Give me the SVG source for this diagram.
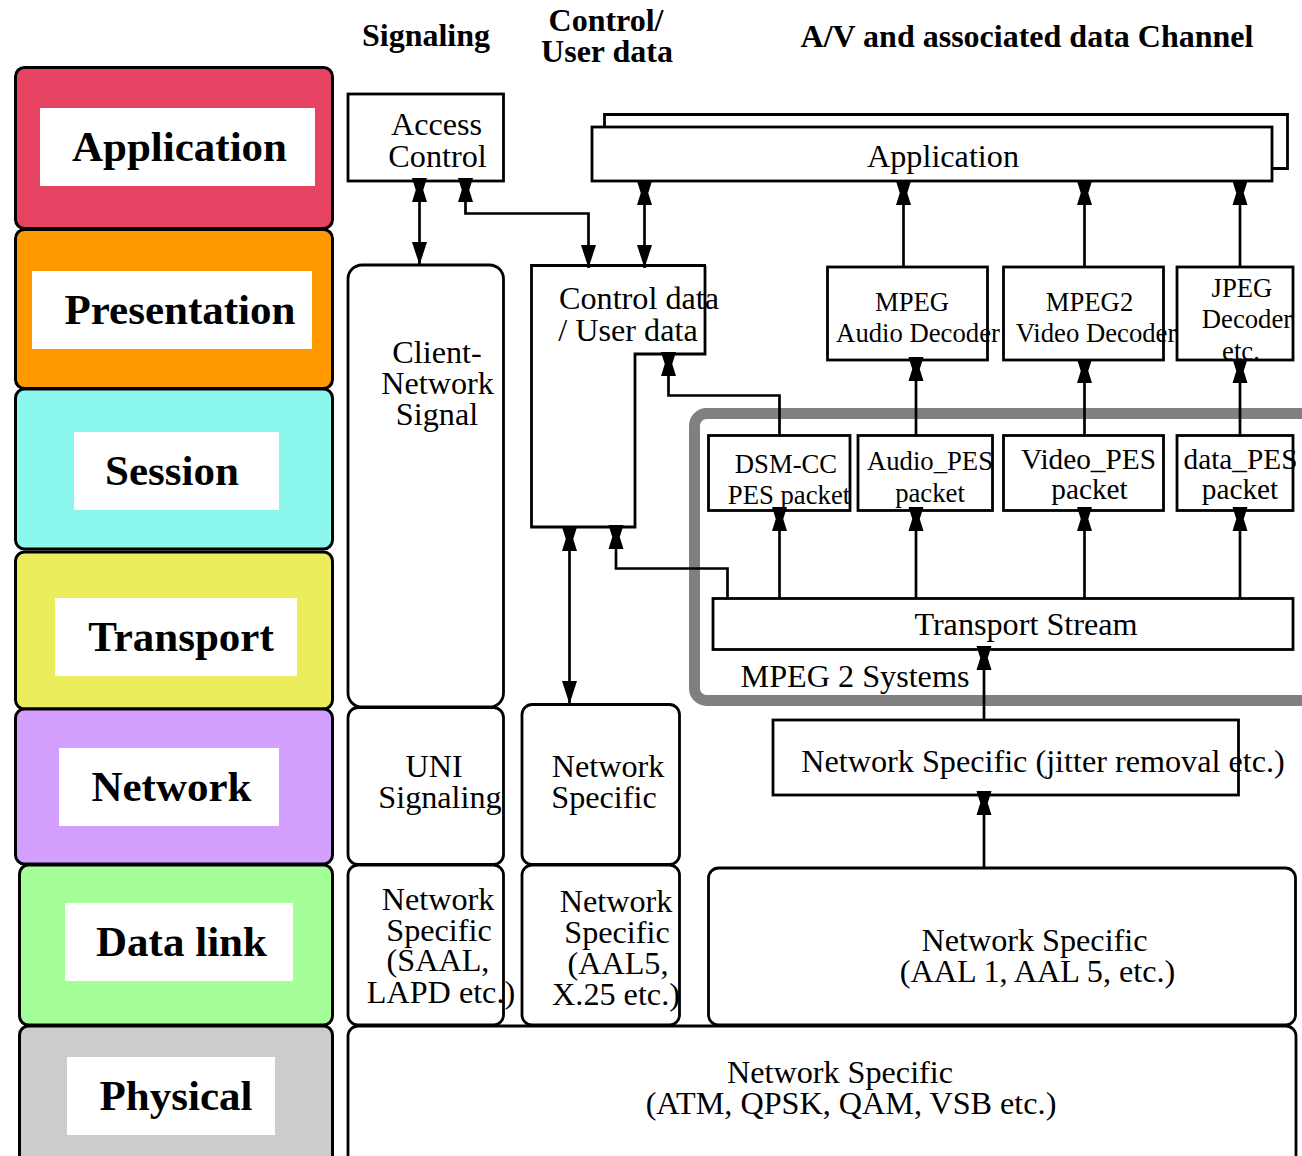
<svg xmlns="http://www.w3.org/2000/svg" width="1302" height="1156" viewBox="0 0 1302 1156">
<style>
text{font-family:"Liberation Serif","Times New Roman",serif;fill:#000;text-anchor:middle}
.h{font-weight:bold;font-size:32px}
.l{font-weight:bold;font-size:43px}
.t{font-size:32.2px}
.s{font-size:26.7px}
.p{font-size:29.3px}
.b{fill:#fff;stroke:#000;stroke-width:2.8}
.lay{stroke:#000;stroke-width:3}
.lab{fill:#fff}
.c{fill:none;stroke:#000;stroke-width:2.7;marker-end:url(#hg)}
.d{fill:none;stroke:#000;stroke-width:2.7;marker-start:url(#hg);marker-end:url(#a)}
.w{fill:none;stroke:#000;stroke-width:2.8}
</style>
<defs>
<marker id="a" markerUnits="userSpaceOnUse" markerWidth="24" markerHeight="16" refX="23" refY="8" orient="auto-start-reverse" viewBox="0 0 24 16" overflow="visible"><path d="M0 .5V15.500L23 8Z" fill="#000"/></marker>
<marker id="hg" markerUnits="userSpaceOnUse" markerWidth="24" markerHeight="16" refX="24" refY="8" orient="auto-start-reverse" viewBox="0 0 24 16" overflow="visible"><path d="M0 .5L12 4.250L24 .5V15.500L12 11.750L0 15.500Z" fill="#000"/></marker>
</defs>
<g id="layer-application"><rect class="lay" x="15.500" y="67.500" width="317" height="161" rx="9" fill="#e64362"/><rect class="lab" x="40" y="108" width="275" height="78"/><text class="l" x="179.500" y="161">Application</text></g>
<g id="layer-presentation"><rect class="lay" x="15.500" y="229.500" width="317" height="159" rx="9" fill="#ff9900"/><rect class="lab" x="32" y="271" width="280" height="78"/><text class="l" x="180" y="324">Presentation</text></g>
<g id="layer-session"><rect class="lay" x="15.500" y="389" width="317" height="160" rx="9" fill="#8cf7ec"/><rect class="lab" x="74" y="432" width="205" height="78"/><text class="l" x="172" y="485">Session</text></g>
<g id="layer-transport"><rect class="lay" x="15.500" y="552" width="317" height="157" rx="9" fill="#ebed5c"/><rect class="lab" x="55" y="598" width="242" height="78"/><text class="l" x="181" y="651">Transport</text></g>
<g id="layer-network"><rect class="lay" x="15.500" y="709" width="317" height="155" rx="9" fill="#d3a0ff"/><rect class="lab" x="59" y="748" width="220" height="78"/><text class="l" x="171.500" y="801">Network</text></g>
<g id="layer-datalink"><rect class="lay" x="19.500" y="865" width="313" height="160" rx="9" fill="#a5ff99"/><rect class="lab" x="65" y="903" width="228" height="78"/><text class="l" x="181.500" y="956">Data link</text></g>
<g id="layer-physical"><rect class="lay" x="19.500" y="1026" width="313" height="140" rx="9" fill="#cccccc"/><rect class="lab" x="67" y="1057" width="208" height="78"/><text class="l" x="176" y="1110">Physical</text></g>

<text class="h" x="426" y="46">Signaling</text>
<text class="h" x="606" y="31">Control/</text>
<text class="h" x="607" y="62">User data</text>
<text class="h" x="1027" y="47">A/V and associated data Channel</text>

<g id="mpeg2-systems"><rect x="694.500" y="413.500" width="620" height="287" rx="12" fill="none" stroke="#808080" stroke-width="11"/><text class="t" x="855" y="687">MPEG 2 Systems</text></g>

<g id="access-control"><rect class="b" x="348" y="94" width="155.500" height="87"/><text class="t" x="436.500" y="135">Access</text><text class="t" x="437.500" y="167">Control</text></g>
<g id="application"><path class="b" d="M604.500 127V114.500H1287.500V168.500H1272"/><rect class="b" x="592" y="127" width="680" height="54"/><text class="t" x="943" y="167">Application</text></g>
<g id="client-network"><rect class="b" x="348" y="265" width="155.500" height="442" rx="14"/><text class="t" x="437" y="363">Client-</text><text class="t" x="437.500" y="394">Network</text><text class="t" x="437" y="425">Signal</text></g>
<g id="control-data"><path class="w" d="M705 265.500V354H635V527H531.500V265.500H706"/><text class="t" x="639" y="309">Control data</text><text class="t" x="628" y="340.500">/ User data</text></g>
<g id="mpeg-audio"><rect class="b" x="827.500" y="267" width="160" height="93"/><text class="s" x="912" y="311">MPEG</text><text class="s" x="918" y="342">Audio Decoder</text></g>
<g id="mpeg2-video"><rect class="b" x="1003.500" y="267" width="160" height="93"/><text class="s" x="1089.500" y="311">MPEG2</text><text class="s" x="1096" y="342">Video Decoder</text></g>
<g id="jpeg"><rect class="b" x="1177" y="267" width="116" height="93"/><text class="s" x="1242" y="297">JPEG</text><text class="s" x="1247" y="328">Decoder</text><text class="s" x="1241" y="360">etc.</text></g>
<g id="dsm-cc"><rect class="b" x="708.500" y="435.500" width="141.500" height="75"/><text class="s" x="786" y="473">DSM-CC</text><text class="s" x="789" y="504">PES packet</text></g>
<g id="audio-pes"><rect class="b" x="858" y="435.500" width="134.500" height="75"/><text class="s" x="930" y="470">Audio_PES</text><text class="s" x="930" y="502">packet</text></g>
<g id="video-pes"><rect class="b" x="1003.500" y="435.500" width="160" height="75"/><text class="p" x="1088.500" y="469">Video_PES</text><text class="p" x="1089.500" y="498.500">packet</text></g>
<g id="data-pes"><rect class="b" x="1177" y="435.500" width="116" height="75"/><text class="p" x="1240.500" y="469">data_PES</text><text class="p" x="1240" y="498.500">packet</text></g>
<g id="transport-stream"><rect class="b" x="713" y="598.500" width="580" height="51"/><text class="t" x="1026" y="635">Transport Stream</text></g>
<g id="uni"><rect class="b" x="348" y="707.500" width="155.500" height="157" rx="10"/><text class="t" x="434" y="777">UNI</text><text class="t" x="440" y="808">Signaling</text></g>
<g id="net-spec-control"><rect class="b" x="522" y="704.500" width="157.500" height="160" rx="10"/><text class="t" x="608" y="777">Network</text><text class="t" x="604" y="808">Specific</text></g>
<g id="net-spec-jitter"><rect class="b" x="773" y="720" width="465.500" height="75"/><text class="t" x="1043" y="772">Network Specific (jitter removal etc.)</text></g>
<g id="net-spec-saal"><rect class="b" x="348" y="865" width="155.500" height="160" rx="10"/><text class="t" x="438" y="909.500">Network</text><text class="t" x="439" y="940.500">Specific</text><text class="t" x="438" y="971">(SAAL,</text><text class="t" x="441" y="1002.500">LAPD etc.)</text></g>
<g id="net-spec-aal5"><rect class="b" x="522" y="865" width="157.500" height="160" rx="10"/><text class="t" x="616" y="912">Network</text><text class="t" x="617" y="943">Specific</text><text class="t" x="618" y="974">(AAL5,</text><text class="t" x="616" y="1005">X.25 etc.)</text></g>
<g id="net-spec-aal"><rect class="b" x="708.500" y="868" width="587" height="157" rx="10"/><text class="t" x="1034.500" y="951">Network Specific</text><text class="t" x="1037.500" y="982">(AAL 1, AAL 5, etc.)</text></g>
<g id="net-spec-physical"><rect class="b" x="348" y="1026" width="948" height="145" rx="10"/><text class="t" x="840" y="1083">Network Specific</text><text class="t" x="851" y="1114">(ATM, QPSK, QAM, VSB etc.)</text></g>

<g id="connectors">
<path class="d" d="M419.500 178V265"/>
<path class="d" d="M465.500 178V213.500H588.500V268"/>
<path class="d" d="M644.500 181V268"/>
<path class="c" d="M903.500 267V181"/>
<path class="c" d="M1084.500 267V181"/>
<path class="c" d="M1240 267V181"/>
<path class="c" d="M916 435V357"/>
<path class="c" d="M1084.500 435V359"/>
<path class="c" d="M1240 435V359"/>
<path class="c" d="M779.500 435V395.500H668.500V352"/>
<path class="c" d="M779.500 598V507"/>
<path class="c" d="M916 598V507"/>
<path class="c" d="M1084.500 598V507"/>
<path class="c" d="M1240 598V507"/>
<path class="c" d="M727.500 598V568.500H616V525"/>
<path class="d" d="M569.500 527V704"/>
<path class="c" d="M984 720V646"/>
<path class="c" d="M984 868V791"/>
</g>
</svg>
